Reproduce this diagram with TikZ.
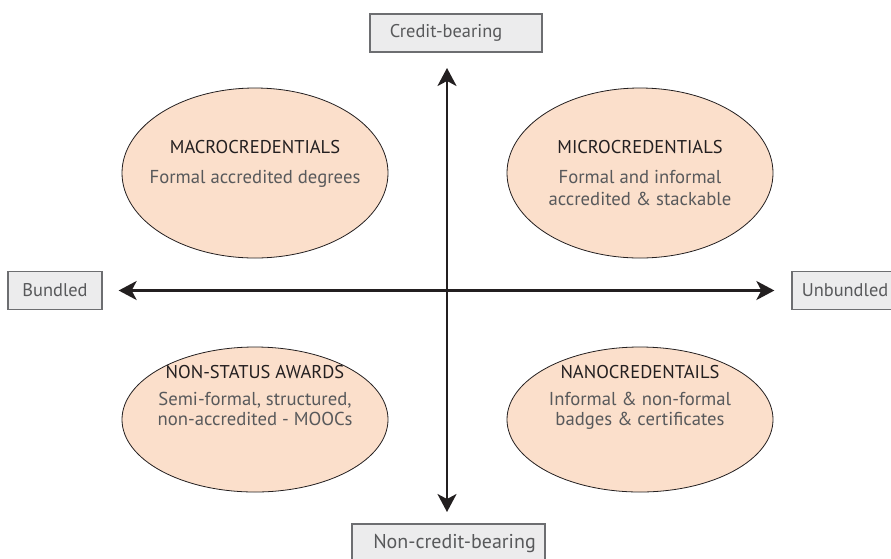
\documentclass[tikz,border=0pt]{standalone}
\usepackage{fontspec}
\setmainfont{PT Sans}
\usetikzlibrary{arrows.meta,shapes.geometric}
\definecolor{ink}{HTML}{231F20}
\definecolor{txtgray}{HTML}{58595B}
\definecolor{peach}{HTML}{FBDFCB}
\definecolor{boxfill}{HTML}{ECECED}
\definecolor{boxline}{HTML}{6D6E71}
\begin{document}
\begin{tikzpicture}[x=1pt,y=-1pt,
  axislabel/.style={draw=boxline, fill=boxfill, line width=1.3pt, text=txtgray,
    font=\fontsize{18.4}{21}\selectfont, inner sep=0pt, minimum height=38pt},
  bubble/.style={ellipse, draw=ink, line width=0.8pt, fill=peach, inner sep=0pt,
    minimum width=266pt},
  titletext/.style={anchor=base, text=ink, font=\fontsize{18.5}{21}\selectfont, inner sep=0pt},
  bodytext/.style={anchor=base, text=txtgray, font=\fontsize{18.7}{21}\selectfont, inner sep=0pt},
  axisline/.style={draw=ink, line width=2.5pt,
    {Stealth[length=18pt,width=19pt,inset=5pt]}-{Stealth[length=18pt,width=19pt,inset=5pt]}}
]
\useasboundingbox (0,0) rectangle (891,558);
% axis labels
\node[axislabel, minimum width=172pt] (credit) at (456,33) {\hspace*{-20pt}Credit-bearing};
\node[axislabel, minimum width=193pt, font=\fontsize{20}{23}\selectfont] (noncredit) at (448.5,543) {\hspace*{12pt}Non-credit-bearing};
\node[axislabel, minimum width=94pt] (bundled) at (55,290.5) {Bundled};
\node[axislabel, minimum width=106pt] (unbundled) at (845,290.5) {Unbundled};
% axes
\coordinate (vtop) at (447,68);
\coordinate (vbot) at (447,512);
\draw[axisline, shorten <=16pt, shorten >=17pt] (bundled.east) -- (unbundled.west);
\draw[axisline] (vtop) -- (vbot);
% ellipses
\node[bubble, minimum height=170pt] (macro) at (255,173) {};
\node[bubble, minimum height=170pt] (micro) at (640,173) {};
\node[bubble, minimum height=145pt] (nonstatus) at (255,419.5) {};
\node[bubble, minimum height=145pt] (nano) at (640,419.5) {};
% texts
\node[titletext] (macroT) at (255,153) {MACROCREDENTIALS};
\node[bodytext] (macroB) at (255,183) {Formal accredited degrees};
\node[titletext] (microT) at (640,153) {MICROCREDENTIALS};
\node[bodytext] (microB1) at (640,183) {Formal and informal};
\node[bodytext] (microB2) at (640,205) {accredited \& stackable};
\node[titletext] (nonstatusT) at (255,378) {NON-STATUS AWARDS};
\node[bodytext] (nonstatusB1) at (255,405) {Semi-formal, structured,};
\node[bodytext] (nonstatusB2) at (255,425) {non-accredited - MOOCs};
\node[titletext] (nanoT) at (640,378) {NANOCREDENTAILS};
\node[bodytext] (nanoB1) at (640,405) {Informal \& non-formal};
\node[bodytext] (nanoB2) at (640,425) {badges \& certificates};
\end{tikzpicture}
\end{document}
